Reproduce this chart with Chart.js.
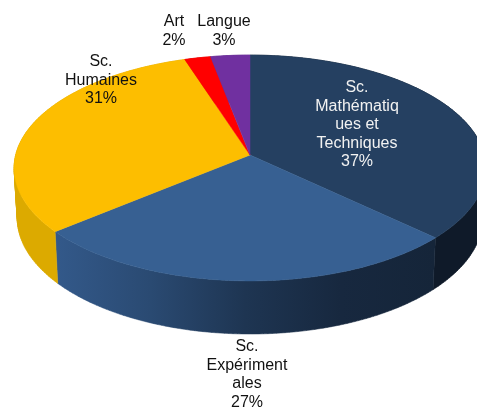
<!DOCTYPE html>
<html lang="fr">
<head>
<meta charset="utf-8">
<title>Répartition par filière</title>
<script src="https://cdn.jsdelivr.net/npm/chart.js@4"></script>
<style>
    html, body { margin: 0; padding: 0; background: #ffffff; }
    canvas { display: block; }
</style>
</head>
<body>
<canvas id="pieChart" width="477" height="407"></canvas>
<script>
const categories = ["Sc. Mathématiques et Techniques", "Sc. Expérimentales", "Sc. Humaines", "Art", "Langue"];
const shares = [37, 27, 31, 2, 3];
const labelLines = [
    ["Sc.", "Mathématiq", "ues et", "Techniques", "37%"],
    ["Sc.", "Expériment", "ales", "27%"],
    ["Sc.", "Humaines", "31%"],
    ["Art", "2%"],
    ["Langue", "3%"],
];

const topColors = ["#254061", "#376092", "#fdbe00", "#ff0000", "#7030a0"];
const wallColors = [
    ["#0f1a29", "#0f1a29"],
    ["#33598a", "#2a4a72", "#1e3552", "#17283f", "#152539"],
    ["#dcaa00", "#d8a400"],
    ["#cc0000", "#cc0000"],
    ["#582680", "#582680"],
];
const labelColors = ["#f2f2f2", "#111111", "#111111", "#111111", "#111111"];
const labelSpots = [[357, 88], [247, 347], [101, 62], [174, 22], [224, 22]];

const FONT_SIZE = 16;
const LINE_HEIGHT = 18.5;

// perspective of the tilted disc, relative to the radius the library gives the pie
const TILT = 0.115;
const topPlane = { a: 1.512, b: 0.719, drop: 0 };
const bottomPlane = { a: 1.492, b: 0.739, drop: 0.32 };

function project(arc, angle, plane) {
    const depth = 1 - TILT * Math.sin(angle);
    return {
        x: arc.x + (plane.a * arc.outerRadius * Math.cos(angle)) / depth,
        y: arc.y + plane.drop * arc.outerRadius + (plane.b * arc.outerRadius * Math.sin(angle)) / depth,
    };
}

function sampleAngles(arc) {
    const steps = Math.max(4, Math.ceil((arc.endAngle - arc.startAngle) * 60));
    const angles = [];
    for (let i = 0; i <= steps; i++) {
        angles.push(arc.startAngle + ((arc.endAngle - arc.startAngle) * i) / steps);
    }
    return angles;
}

function drawWall(ctx, arc, index) {
    const angles = sampleAngles(arc);
    const first = project(arc, angles[0], topPlane);
    const last = project(arc, angles[angles.length - 1], topPlane);
    const gradient = ctx.createLinearGradient(Math.min(first.x, last.x), 0, Math.max(first.x, last.x), 0);
    wallColors[index].forEach((color, i, all) => gradient.addColorStop(i / (all.length - 1), color));

    // each strip gets the same winding so the union follows the outer silhouette
    ctx.beginPath();
    for (let i = 0; i < angles.length - 1; i++) {
        let quad = [
            project(arc, angles[i], topPlane),
            project(arc, angles[i + 1], topPlane),
            project(arc, angles[i + 1], bottomPlane),
            project(arc, angles[i], bottomPlane),
        ];
        let area = 0;
        quad.forEach((p, j) => {
            const q = quad[(j + 1) % 4];
            area += p.x * q.y - q.x * p.y;
        });
        if (area < 0) {
            quad = quad.reverse();
        }
        ctx.moveTo(quad[0].x, quad[0].y);
        quad.slice(1).forEach((p) => ctx.lineTo(p.x, p.y));
        ctx.closePath();
    }
    ctx.fillStyle = gradient;
    ctx.strokeStyle = gradient;
    ctx.lineWidth = 0.5;
    ctx.fill();
    ctx.stroke();
}

function drawTop(ctx, arc, index) {
    ctx.beginPath();
    ctx.moveTo(arc.x, arc.y);
    sampleAngles(arc).forEach((angle) => {
        const p = project(arc, angle, topPlane);
        ctx.lineTo(p.x, p.y);
    });
    ctx.closePath();
    ctx.fillStyle = topColors[index];
    ctx.strokeStyle = topColors[index];
    ctx.lineWidth = 0.5;
    ctx.fill();
    ctx.stroke();
}

const tiltedPie = {
    id: "tiltedPie",
    beforeDatasetsDraw(chart) {
        const ctx = chart.ctx;
        const arcs = chart.getDatasetMeta(0).data;
        ctx.save();
        arcs.forEach((arc, i) => drawWall(ctx, arc, i));
        arcs.forEach((arc, i) => drawTop(ctx, arc, i));
        ctx.restore();
        return false;
    },
    afterDraw(chart) {
        const ctx = chart.ctx;
        ctx.save();
        ctx.font = `${FONT_SIZE}px "Liberation Sans", Arial, sans-serif`;
        ctx.textAlign = "center";
        ctx.textBaseline = "middle";
        labelLines.forEach((lines, i) => {
            ctx.fillStyle = labelColors[i];
            lines.forEach((line, j) => {
                ctx.fillText(line, labelSpots[i][0], labelSpots[i][1] + j * LINE_HEIGHT);
            });
        });
        ctx.restore();
    },
};

new Chart(document.querySelector("#pieChart"), {
    type: "pie",
    data: {
        labels: categories,
        datasets: [
            {
                data: shares,
                backgroundColor: topColors,
                borderWidth: 0,
            },
        ],
    },
    options: {
        responsive: false,
        animation: false,
        layout: {
            padding: { left: 23, right: 0, top: 0, bottom: 97 },
        },
        plugins: {
            legend: { display: false },
            tooltip: { enabled: false },
        },
    },
    plugins: [tiltedPie],
});
</script>
</body>
</html>
